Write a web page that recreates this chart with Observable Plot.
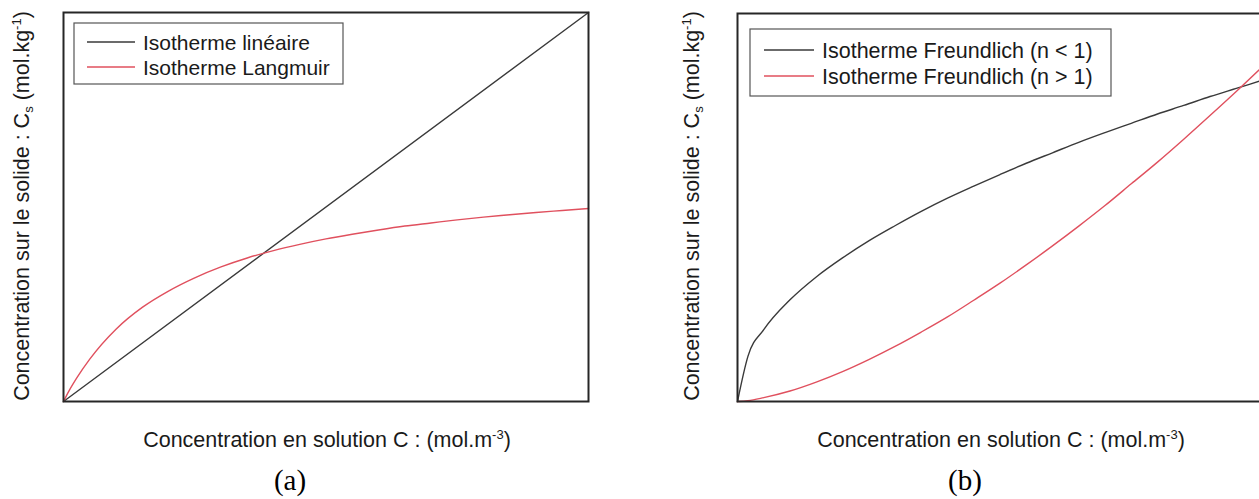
<!DOCTYPE html>
<html>
<head>
<meta charset="utf-8">
<script src="https://cdn.jsdelivr.net/npm/d3@7"></script>
<script src="https://cdn.jsdelivr.net/npm/@observablehq/plot@0.6"></script>
<style>
  html, body { margin: 0; padding: 0; background: #fff; }
  body { width: 1259px; height: 499px; overflow: hidden; position: relative; }
  .panel { position: absolute; top: 0; width: 640px; height: 499px; }
  .panel svg { max-width: none !important; }
</style>
</head>
<body>
<div id="a" class="panel" style="left:0px"></div>
<div id="b" class="panel" style="left:674px"></div>
<script>
// ---------- data (normalised concentrations) ----------
// Panel (a)
const linC = [0, 1];
const linQ = [0, 1];
const langC = [0, 0.01, 0.025, 0.05, 0.1, 0.15, 0.2, 0.25, 0.3, 0.35, 0.4, 0.45, 0.5, 0.55, 0.6, 0.65, 0.7, 0.75, 0.8, 0.85, 0.9, 0.95, 1.0];
const langQ = [0, 0.026, 0.060, 0.109, 0.186, 0.242, 0.284, 0.318, 0.346, 0.369, 0.388, 0.404, 0.418, 0.430, 0.441, 0.451, 0.459, 0.467, 0.474, 0.480, 0.486, 0.491, 0.496];
// Panel (b)
const freC = [0, 0.02, 0.05, 0.1, 0.15, 0.2, 0.25, 0.3, 0.35, 0.4, 0.45, 0.5, 0.55, 0.6, 0.65, 0.7, 0.75, 0.8, 0.85, 0.9, 0.95, 1.0];
const freLow = [0, 0.117, 0.185, 0.262, 0.321, 0.370, 0.414, 0.453, 0.490, 0.524, 0.555, 0.585, 0.614, 0.641, 0.668, 0.693, 0.717, 0.741, 0.763, 0.786, 0.807, 0.828];
const freHigh = [0, 0.002, 0.010, 0.027, 0.050, 0.077, 0.108, 0.142, 0.179, 0.218, 0.261, 0.305, 0.352, 0.401, 0.452, 0.505, 0.561, 0.617, 0.676, 0.737, 0.799, 0.863];

const namesA = ["Isotherme linéaire", "Isotherme Langmuir"];
const namesB = ["Isotherme Freundlich (n < 1)", "Isotherme Freundlich (n > 1)"];
const colors = ["#3a3a3a", "#e0505e"];

const xLabel = "Concentration en solution C : (mol.m";
const yLabel = "Concentration sur le solide : C";
const captions = ["(a)", "(b)"];

const SANS = "'Liberation Sans', Arial, sans-serif";
const FS = 21.5;

function toRows(xs, ys) { return xs.map((c, i) => ({c, q: ys[i]})); }

function panel(series, names, opt) {
  const svg = Plot.plot({
    width: 640, height: 499,
    marginLeft: 63, marginRight: 52, marginTop: opt.top, marginBottom: 98,
    x: {domain: [0, 1], axis: null},
    y: {domain: [0, 1], axis: null},
    style: {background: "transparent", overflow: "visible", maxWidth: "none"},
    marks: [
      ...series.map((s, i) => Plot.line(s, {x: "c", y: "q", stroke: colors[i], strokeWidth: 1.4, curve: "monotone-x"})),
      Plot.frame({stroke: "#262626", strokeWidth: 2})
    ]
  });
  const g = d3.select(svg).append("g").attr("font-family", SANS).attr("fill", "#1a1a1a")
    .attr("text-anchor", "start");

  // legend
  const L = opt.legend;
  g.append("rect").attr("x", L.x).attr("y", L.y).attr("width", L.w).attr("height", L.h)
    .attr("fill", "#fff").attr("stroke", "#555").attr("stroke-width", 1.2);
  names.forEach((n, i) => {
    const yy = L.y + L.first + i * L.step;
    g.append("line").attr("x1", L.x + L.l1).attr("x2", L.x + L.l2).attr("y1", yy).attr("y2", yy)
      .attr("stroke", colors[i]).attr("stroke-width", 1.3);
    g.append("text").attr("x", L.x + L.tx).attr("y", yy + 7.5).attr("font-size", L.fs)
      .attr("text-anchor", "start").text(n);
  });

  // x label
  const xt = g.append("text").attr("x", 327).attr("y", 447).attr("text-anchor", "middle").attr("font-size", FS);
  xt.append("tspan").text(xLabel);
  xt.append("tspan").attr("font-size", 13).attr("dy", -8).text("-3");
  xt.append("tspan").attr("dy", 8).text(")");

  // y label
  const yt = g.append("text").attr("transform", `translate(${opt.yx},206) rotate(-90)`)
    .attr("text-anchor", "middle").attr("font-size", FS);
  yt.append("tspan").text(yLabel);
  yt.append("tspan").attr("font-size", 13).attr("dy", 4).text("s");
  yt.append("tspan").attr("dy", -4).text(" (mol.kg");
  yt.append("tspan").attr("font-size", 13).attr("dy", -8).text("-1");
  yt.append("tspan").attr("dy", 8).text(")");

  // caption
  g.append("text").attr("x", opt.capx).attr("y", 490).attr("text-anchor", "middle")
    .attr("font-family", "'Liberation Serif', 'Times New Roman', serif").attr("font-size", 29).attr("fill", "#000")
    .text(opt.cap);
  return svg;
}

document.getElementById("a").append(panel(
  [toRows(linC, linQ), toRows(langC, langQ)], namesA,
  {top: 12, yx: 29, capx: 290, cap: captions[0],
   legend: {x: 74, y: 23, w: 269, h: 61, first: 19, step: 25, l1: 13, l2: 61, tx: 69, fs: 21}}
));
document.getElementById("b").append(panel(
  [toRows(freC, freLow), toRows(freC, freHigh)], namesB,
  {top: 13, yx: 25, capx: 291, cap: captions[1],
   legend: {x: 76, y: 29, w: 361, h: 67, first: 21, step: 26, l1: 14, l2: 64, tx: 72, fs: 21.5}}
));
</script>
</body>
</html>
